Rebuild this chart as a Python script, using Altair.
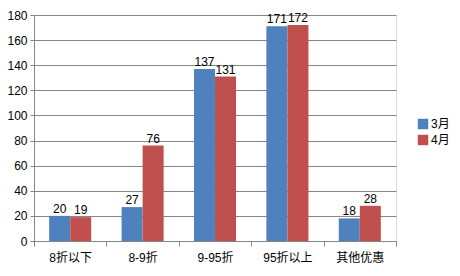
import altair as alt
import pandas as pd

categories = ["8折以下", "8-9折", "9-95折", "95折以上", "其他优惠"]
series = ["3月", "4月"]
march = [20, 27, 137, 171, 18]
april = [19, 76, 131, 172, 28]
colors = ["#4F81BD", "#C0504D"]
y_ticks = list(range(0, 181, 20))

rows = []
for c, a, b in zip(categories, march, april):
    rows.append({"cat": c, "series": series[0], "value": a})
    rows.append({"cat": c, "series": series[1], "value": b})
df = pd.DataFrame(rows)

FONT = "Liberation Sans, Noto Sans CJK SC, sans-serif"

x = alt.X("cat:N", sort=categories, title=None,
          scale=alt.Scale(paddingInner=0, paddingOuter=0),
          axis=alt.Axis(labelAngle=0, tickBand="extent", domainColor="#868686",
                        tickColor="#868686", tickSize=5, labelPadding=6,
                        labelFontSize=12, labelColor="#000000", labelFont=FONT,
                        grid=False))
xoff = alt.XOffset("series:N", sort=series,
                   scale=alt.Scale(paddingInner=0, paddingOuter=0.72))
y = alt.Y("value:Q", title=None,
          scale=alt.Scale(domain=[0, 180], nice=False),
          axis=alt.Axis(values=y_ticks, gridColor="#868686", domainColor="#868686",
                        tickColor="#868686", tickSize=4, labelPadding=3,
                        labelFontSize=12, labelColor="#000000", labelFont=FONT))
color = alt.Color("series:N", sort=series,
                  scale=alt.Scale(domain=series, range=colors),
                  legend=alt.Legend(title=None, orient="none", legendX=383, legendY=103,
                                    symbolType="square", symbolSize=110,
                                    symbolStrokeWidth=0, labelFontSize=12,
                                    labelFont=FONT, labelColor="#000000",
                                    rowPadding=4, labelOffset=2))

bars = alt.Chart(df).mark_bar(size=21).encode(x=x, xOffset=xoff, y=y, color=color)
labels = alt.Chart(df).mark_text(dy=-7, fontSize=12, font=FONT, color="#000000").encode(
    x=x, xOffset=xoff, y=y, text="value:Q")

chart = alt.layer(bars, labels).properties(
    width=362, height=226,
    autosize=alt.AutoSizeParams(type="none"),
    padding={"left": 34, "top": 15, "right": 64, "bottom": 35},
).configure_view(stroke=None).configure(background="#ffffff")

chart.save("out.html", embed_options={"renderer": "svg", "actions": False})
